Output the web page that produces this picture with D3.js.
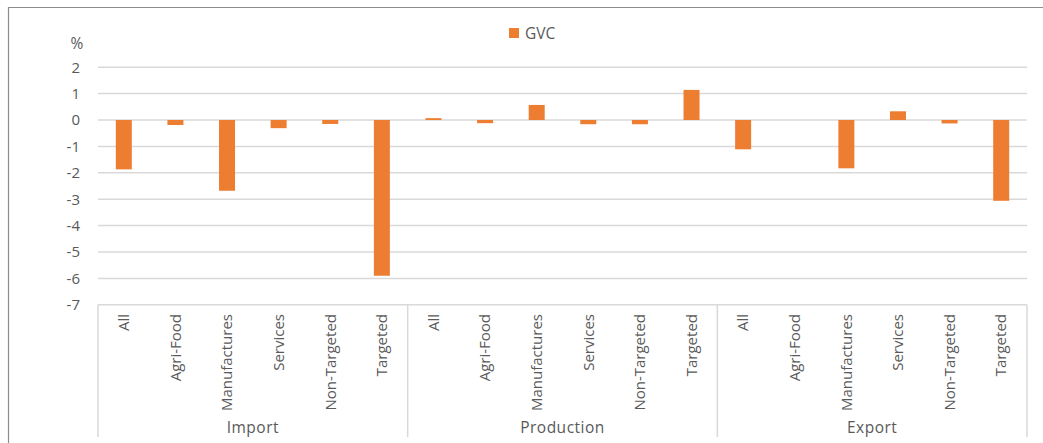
<!DOCTYPE html>
<html>
<head>
<meta charset="utf-8">
<script src="https://cdn.jsdelivr.net/npm/d3@7"></script>
<style>
  body { margin: 0; background: #fff; }
  text { font-family: "Open Sans", sans-serif; fill: #595959; }
</style>
</head>
<body>
<svg></svg>
<script>
var width = 1043, height = 443;

var groups = ['Import', 'Production', 'Export'];
var sectors = ['All', 'Agri-Food', 'Manufactures', 'Services', 'Non-Targeted', 'Targeted'];
var importVals = [-1.87, -0.19, -2.68, -0.31, -0.15, -5.9];
var productionVals = [0.07, -0.12, 0.57, -0.16, -0.16, 1.14];
var exportVals = [-1.11, 0, -1.83, 0.33, -0.13, -3.06];
var yTicks = [2, 1, 0, -1, -2, -3, -4, -5, -6, -7];
var seriesName = 'GVC';

var barColor = '#ED7D31';
var gridColor = '#d9d9d9';

// flat table of bars
var allVals = [importVals, productionVals, exportVals];
var rows = [];
groups.forEach(function(g, gi){
    sectors.forEach(function(s, si){
        rows.push({group: g, sector: s, key: g + '|' + s, value: allVals[gi][si]});
    });
});

var plotLeft = 98, plotRight = 1027, plotTop = 67.2, plotBottom = 304.8;

var x = d3.scaleBand()
            .domain(rows.map(d => d.key))
            .range([plotLeft, plotRight])
            .paddingInner(0.69)
            .paddingOuter(0.345);

var gx = d3.scaleBand()
            .domain(groups)
            .range([plotLeft, plotRight]);

var y = d3.scaleLinear()
            .domain([-7, 2])
            .range([plotBottom, plotTop]);

var svg = d3.select('svg')
                .attr('width', width)
                .attr('height', height);

// outer frame (open to the right and bottom, like the crop)
svg.append('path')
    .attr('d', 'M8.5,' + (height + 5) + 'V7.5H' + (width + 5))
    .attr('fill', 'none')
    .attr('stroke', '#8c8c8c')
    .attr('stroke-width', 1.2);

// gridlines
svg.append('g')
    .selectAll('line')
    .data(yTicks)
    .enter()
    .append('line')
        .attr('x1', plotLeft)
        .attr('x2', plotRight)
        .attr('y1', d => y(d))
        .attr('y2', d => y(d))
        .attr('stroke', gridColor)
        .attr('stroke-width', 1.5);

// y tick labels
svg.append('g')
    .selectAll('text')
    .data(yTicks)
    .enter()
    .append('text')
        .attr('x', 80)
        .attr('y', d => y(d))
        .attr('dy', '0.36em')
        .attr('text-anchor', 'end')
        .style('font-size', '15px')
        .text(d => d);

svg.append('text')
    .attr('x', 77)
    .attr('y', 49)
    .attr('text-anchor', 'middle')
    .style('font-size', '15.5px')
    .text('%');

// bars
svg.append('g')
    .selectAll('rect')
    .data(rows.filter(d => d.value !== 0))
    .enter()
    .append('rect')
        .attr('x', d => x(d.key))
        .attr('width', x.bandwidth())
        .attr('y', d => y(Math.max(0, d.value)))
        .attr('height', d => Math.abs(y(d.value) - y(0)))
        .attr('fill', barColor);

// category axis box
var axisBottom = 437;
svg.append('g')
    .selectAll('line')
    .data(groups.concat(['end']))
    .enter()
    .append('line')
        .attr('x1', (d, i) => i < groups.length ? gx(d) : plotRight)
        .attr('x2', (d, i) => i < groups.length ? gx(d) : plotRight)
        .attr('y1', plotBottom)
        .attr('y2', axisBottom)
        .attr('stroke', gridColor)
        .attr('stroke-width', 1.5);

// sector labels
svg.append('g')
    .selectAll('text')
    .data(rows)
    .enter()
    .append('text')
        .attr('transform', d => 'translate(' + (x(d.key) + x.bandwidth() / 2) + ',314) rotate(-90)')
        .attr('dy', '0.35em')
        .attr('text-anchor', 'end')
        .style('font-size', '15px')
        .text(d => d.sector);

// group labels
svg.append('g')
    .selectAll('text')
    .data(groups)
    .enter()
    .append('text')
        .attr('x', d => gx(d) + gx.bandwidth() / 2)
        .attr('y', 433)
        .attr('text-anchor', 'middle')
        .style('font-size', '15.5px')
        .style('letter-spacing', '0.5px')
        .text(d => d);

// legend
var legend = svg.append('g').attr('transform', 'translate(509,28)');
legend.append('rect')
    .attr('width', 10)
    .attr('height', 10)
    .attr('fill', barColor);
legend.append('text')
    .attr('x', 16)
    .attr('y', 10.5)
    .style('font-size', '15.5px')
    .text(seriesName);
</script>
</body>
</html>
